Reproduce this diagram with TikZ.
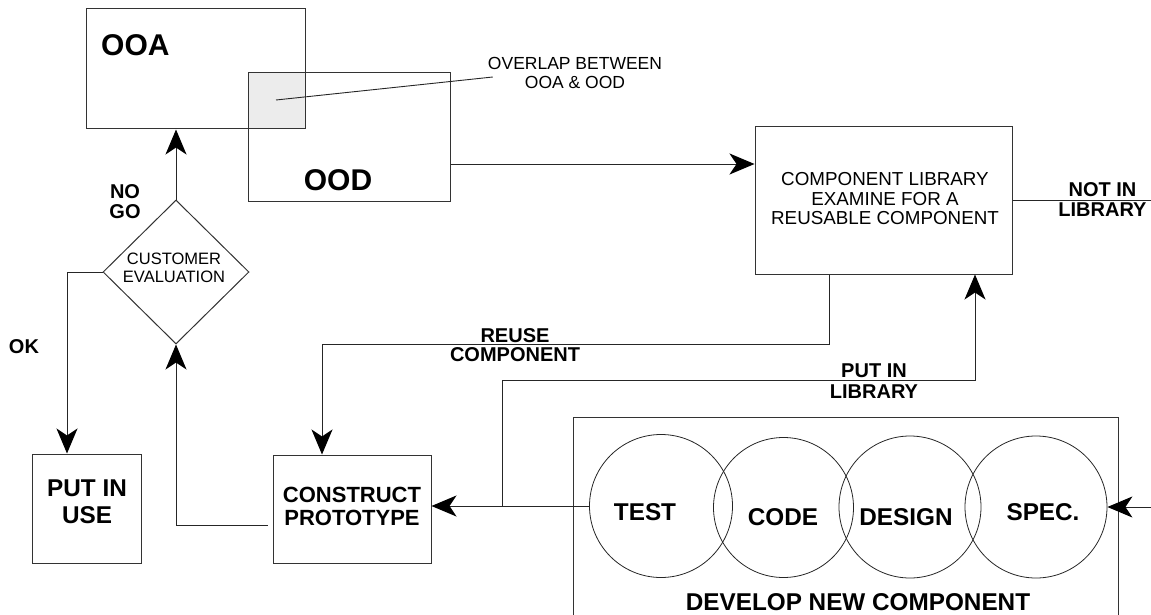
\documentclass[tikz,border=0pt]{standalone}
\usepackage{fontspec}
\setmainfont{Liberation Sans}
\usetikzlibrary{arrows.meta,shapes.geometric}
\begin{document}
\begin{tikzpicture}[x=1pt,y=-1pt,
  outline/.style={draw=black!80, line width=1pt},
  box/.style={outline, rectangle, inner sep=0pt},
  ring/.style={draw=black!85, line width=0.8pt, circle, inner sep=0pt, minimum size=143pt},
  conn/.style={draw=black!85, line width=1pt},
  arr/.style={conn, -{Stealth[length=25pt,width=21pt,inset=7pt,black]}},
  txt/.style={inner sep=0pt, align=center},
  plain/.style={txt, font=\fontsize{17.5pt}{19.5pt}\selectfont},
  small/.style={txt, font=\fontsize{16.5pt}{18pt}\selectfont},
  tag/.style={txt, font=\bfseries\fontsize{20pt}{20pt}\selectfont},
  big/.style={txt, font=\bfseries\fontsize{30pt}{32pt}\selectfont},
  mid/.style={txt, font=\bfseries\fontsize{24.3pt}{27pt}\selectfont}
]
\useasboundingbox (0,0) rectangle (1151,615);

% analysis / design boxes with their shared region
\fill[gray!15] (248,73) rectangle (305,129);
\node[box, minimum width=219pt, minimum height=120pt] (ooa) at (195.5,69) {};
\node[box, minimum width=202pt, minimum height=128pt] (ood) at (349,137) {};
\node[big, anchor=west] (ooatext) at (101,45) {OOA};
\node[big] (oodtext) at (338,180) {OOD};

% note on the shared region
\node[plain] (note) at (575,73) {OVERLAP BETWEEN\\OOA \& OOD};
\coordinate (ovpt) at (276,100);
\draw[conn, line width=0.9pt] (ovpt) -- ([shift={(5pt,-4pt)}]note.west);

% component library
\node[box, minimum width=257pt, minimum height=147pt] (lib) at (883.5,200.5) {};
\node[txt, font=\fontsize{18.8pt}{19.5pt}\selectfont] (libtext) at (885,199) {COMPONENT LIBRARY\\EXAMINE FOR A\\REUSABLE COMPONENT};
\coordinate (oodout) at ([yshift=-27pt]ood.east);
\draw[arr] (oodout) -- (oodout -| lib.west);

% not in library exit
\coordinate (notin) at (1151,200.5);
\draw[conn] (lib.east) -- (notin);
\node[tag] (notintext) at (1102.5,199.5) {NOT IN\\LIBRARY};

% customer evaluation
\node[outline, diamond, minimum width=146pt, minimum height=144pt, inner sep=0pt] (dia) at (176,272) {};
\node[small] (diatext) at (174,268) {CUSTOMER\\EVALUATION};
\draw[arr] (dia.north) -- (dia.north |- ooa.south);
\node[tag] (nogo) at (125,201.5) {NO\\GO};

% put in use
\node[box, minimum width=109pt, minimum height=109pt] (use) at (86.5,508.5) {};
\node[mid] (usetext) at (87,501.5) {PUT IN\\USE};
\draw[arr] (dia.west) -| ([xshift=-19.5pt]use.north);
\node[tag] (ok) at (24,347) {OK};

% construct prototype
\node[box, minimum width=158pt, minimum height=108pt] (cp) at (352,509) {};
\node[txt, font=\bfseries\fontsize{22pt}{23pt}\selectfont] (cptext) at (352,506.5) {CONSTRUCT\\PROTOTYPE};
\draw[arr, shorten <=5pt] ([yshift=-16pt]cp.west) -| (dia.south);

% reuse path
\coordinate (reusecorner) at (322,344);
\draw[arr] ([xshift=-54.5pt]lib.south) |- (reusecorner) -- (reusecorner |- cp.north);
\node[tag, font=\bfseries\fontsize{20pt}{19pt}\selectfont] (reusetext) at (515,345.5) {REUSE\\COMPONENT};

% develop new component
\draw[outline] (573,616) |- (1118,417) -- (1118,616);
\node[ring] (test) at (661,506) {};
\node[ring, minimum size=140pt] (code) at (783.5,507.5) {};
\node[ring, minimum size=142pt] (design) at (910,507) {};
\node[ring, minimum size=142pt] (spec) at (1036,507) {};
\node[mid] (testtext) at (645,512) {TEST};
\node[mid] (codetext) at (783,517) {CODE};
\node[mid] (designtext) at (906,517) {DESIGN};
\node[mid] (spectext) at (1043,512) {SPEC.};
\node[mid] (devtext) at (858,602) {DEVELOP NEW COMPONENT};
\coordinate (specin) at (1151,507);
\draw[arr] (specin) -- (spec.east);
\draw[arr] (test.west) -- (test.west -| cp.east);

% put in library path
\coordinate (pil) at (502,506);
\coordinate (pilcorner) at (975,380);
\draw[arr] (pil) |- (pilcorner) -- (pilcorner |- lib.south);
\node[tag, font=\bfseries\fontsize{20pt}{21.7pt}\selectfont] (piltext) at (874,381) {PUT IN\\LIBRARY};
\end{tikzpicture}
\end{document}
